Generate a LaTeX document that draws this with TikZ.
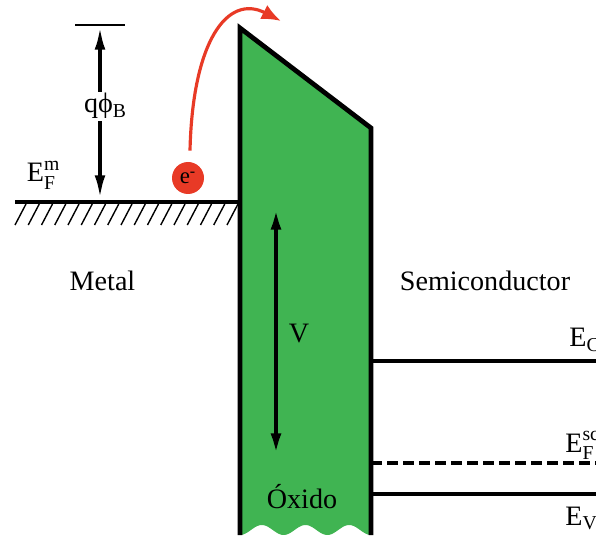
\documentclass[tikz,border=0pt]{standalone}
\usepackage{amsmath}
\usepackage{fontspec}
\setmainfont{Liberation Serif}
\usetikzlibrary{arrows.meta, positioning}
\definecolor{oxidegreen}{RGB}{64,180,82}
\definecolor{electronred}{RGB}{232,58,38}

\begin{document}
\begin{tikzpicture}[>={Latex[length=14pt,width=6pt]}, font=\fontsize{16}{19}\selectfont,
                    level/.style={line width=2.3pt},
                    barrier/.style={line width=2.7pt, line join=miter},
                    lbl/.style={anchor=base west, inner sep=0pt}]
                    \useasboundingbox (0,0) rectangle (11.92,10.82);

                    % Oxide barrier
                    \coordinate (oxbl) at (4.80, 0.12);
                    \coordinate (oxtop) at (4.80, 10.26);
                    \coordinate (oxtr) at (7.42, 8.26);
                    \coordinate (oxbr) at (7.42, 0.12);
                    \fill[oxidegreen] (oxbl) -- (oxtop) -- (oxtr) -- (oxbr)
                        -- plot[domain=7.42:4.80, samples=80] (\x, {0.22 - 0.10*cos(360*(\x-4.80)/0.8733)}) -- cycle;
                    \draw[barrier] (oxbl) -- (oxtop) -- (oxtr) -- (oxbr);

                    % Metal side
                    \coordinate (metal0) at (0.30, 6.78); \coordinate (metal1) at (4.80, 6.78);
                    \foreach \x in {0.30,0.565,...,4.55}
                        \draw[line width=0.8pt] (\x, 6.32) -- ++(0.22, 0.42);
                    \draw[level] (metal0) -- (metal1);
                    \node[lbl] (efm) at (0.53, 7.18) {E$^{\text{m}}_{\text{F}}$};
                    \node (metal) at (2.05, 5.20) {Metal};

                    % Barrier height
                    \coordinate (bartop0) at (1.50, 10.32); \coordinate (bartop1) at (2.50, 10.32);
                    \coordinate (phitop) at (2.00, 10.32); \coordinate (phibot) at (2.00, 6.82);
                    \draw[line width=0.8pt] (bartop0) -- (bartop1);
                    \draw[<->, line width=2.3pt] (phitop) -- (phibot);
                    \node[lbl, fill=white, inner sep=1pt] (phib) at (1.64, 8.56) {qϕ$_{\text{B}}$};

                    % Electron
                    \node[circle, fill=electronred, minimum size=0.64cm, inner sep=0pt] (elec) at (3.76, 7.26)
                        {\fontsize{13}{13}\selectfont e$^{\text{-}}$};
                    \coordinate (jumpend) at (5.62, 10.40);
                    \draw[-{Latex[length=11pt,width=9pt]}, electronred, line width=1.8pt]
                        ([shift={(0.04,0.22)}]elec.north) .. controls (3.85, 10.0) and (4.55, 10.95) .. (jumpend);

                    % Voltage across the oxide
                    \coordinate (vtop) at (5.52, 6.72); \coordinate (vbot) at (5.52, 1.66);
                    \draw[<->, line width=2.6pt] (vtop) -- (vbot);
                    \node[anchor=base] (vlabel) at (5.98, 3.96) {V};
                    \node[anchor=base] (oxide) at (6.04, 0.66) {Óxido};

                    % Semiconductor side
                    \node (semi) at (9.70, 5.20) {Semiconductor};
                    \coordinate (ec0) at (7.42, 3.60); \coordinate (ec1) at (11.92, 3.60);
                    \coordinate (ef0) at (7.42, 1.56); \coordinate (ef1) at (11.92, 1.56);
                    \coordinate (ev0) at (7.42, 0.94); \coordinate (ev1) at (11.92, 0.94);
                    \draw[level] (ec0) -- (ec1);
                    \draw[line width=2.8pt, dash pattern=on 0.22cm off 0.10cm] (ef0) -- (ef1);
                    \draw[level, line width=2pt] (ev0) -- (ev1);
                    \node[lbl] (ec) at (11.38, 3.88) {E$_{\text{C}}$};
                    \node[lbl] (efsc) at (11.30, 1.78) {E$^{\text{sc}}_{\text{F}}$};
                    \node[lbl] (ev) at (11.30, 0.32) {E$_{\text{V}}$};

                \end{tikzpicture}
\end{document}
